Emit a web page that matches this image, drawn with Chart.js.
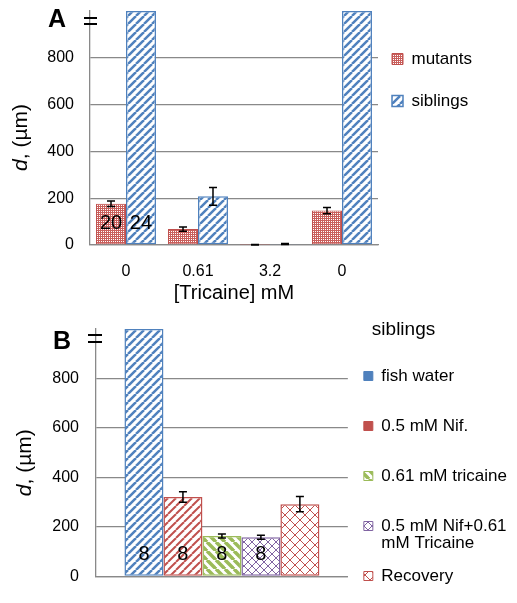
<!DOCTYPE html>
<html><head><meta charset="utf-8">
<script src="https://cdn.jsdelivr.net/npm/chart.js@4"></script>
<style>
html,body{margin:0;padding:0;background:#fff;}
#wrap{position:relative;width:517px;height:603px;overflow:hidden;background:#fff;}
canvas{position:absolute;left:0;}
#ca{top:0;}
#cb{top:290px;}
</style></head><body>
<div id="wrap"><canvas id="ca" width="517" height="310"></canvas><canvas id="cb" width="517" height="313"></canvas></div>
<script>
// ---------- data ----------
const tricaineLabels = ['0', '0.61', '3.2', '0'];
const seriesA = ['mutants', 'siblings'];
const mutants = [176, 68, 1, 147];
const mutantsErr = [12, 9, 1, 13];
const siblingsA = [1000, 208, 4, 1000];
const siblingsAErr = [null, 38, 2, null];
const countsMutants = ['20', '', '', ''];
const countsSiblingsA = ['24', '', '', ''];
const yTicks = [0, 200, 400, 600, 800];
const yMax = 1000;

const legendTitleB = 'siblings';
const treatments = ['fish water', '0.5 mM Nif.', '0.61 mM tricaine', '0.5 mM Nif+0.61 mM Tricaine', 'Recovery'];
const legendLinesB = [['fish water', ''], ['0.5 mM Nif.', ''], ['0.61 mM tricaine', ''], ['0.5 mM Nif+0.61', 'mM Tricaine'], 'Recovery'];
const siblingsB = [1000, 321, 163, 158, 292];
const siblingsBErr = [null, 21, 8, 8, 31];
const countsB = ['8', '8', '8', '8', ''];

// ---------- styles ----------
const FONT = '"Liberation Sans", Arial, sans-serif';
Chart.defaults.font.family = FONT;
Chart.defaults.color = '#000';
const GRID = '#898989';
const BLUE = '#4f81bd', RED = '#c0504d', GREEN = '#9bbb59', PURPLE = '#8064a2';
const W = 517;

function makePattern(size, draw) {
  const c = document.createElement('canvas');
  c.width = c.height = size;
  const x = c.getContext('2d');
  draw(x, size);
  return x.createPattern(c, 'repeat');
}
function stripes(color, s, lw, dir) {
  return makePattern(s, (x) => {
    x.fillStyle = '#fff'; x.fillRect(0, 0, s, s);
    x.strokeStyle = color; x.lineWidth = lw;
    for (let k = -1; k <= 1; k++) {
      x.beginPath();
      if (dir === '/') { x.moveTo(k * s, s); x.lineTo(k * s + s, 0); }
      else { x.moveTo(k * s, 0); x.lineTo(k * s + s, s); }
      x.stroke();
    }
  });
}
function lattice(color, s, lw) {
  return makePattern(s, (x) => {
    x.fillStyle = '#fff'; x.fillRect(0, 0, s, s);
    x.strokeStyle = color; x.lineWidth = lw;
    for (let k = -1; k <= 1; k++) {
      x.beginPath(); x.moveTo(k * s, s); x.lineTo(k * s + s, 0); x.stroke();
      x.beginPath(); x.moveTo(k * s, 0); x.lineTo(k * s + s, s); x.stroke();
    }
  });
}
const patMut = makePattern(4, (x, s) => {
  x.fillStyle = '#c95f5c'; x.fillRect(0, 0, s, s);
  x.fillStyle = '#ffffff';
  x.fillRect(1, 1, 1, 1); x.fillRect(3, 3, 1, 1); x.fillRect(1, 3, 1, 1); x.fillRect(3, 1, 1, 1);
});
const patBlue = stripes(BLUE, 8, 2.5, '/');
const patRed = stripes(RED, 8, 2, '/');
const patGreen = stripes(GREEN, 9, 3.5, '\\');
const patPurple = lattice(PURPLE, 8, 1);
const patRecov = lattice(RED, 10, 1);

// legend width as Chart.js computes it (vertical legend): padding + box + size/2 + text + 10
const measureCtx = document.createElement('canvas').getContext('2d');
function legendWidth(texts, size, pad, box) {
  measureCtx.font = size + 'px ' + FONT;
  const w = Math.max(...texts.map(t => measureCtx.measureText(t).width));
  return pad + box + size / 2 + w + 10;
}

// ---------- plugins ----------
const decor = {
  id: 'decor',
  afterDraw(chart, args, o) {
    const { ctx, chartArea: a } = chart;
    ctx.save();
    ctx.fillStyle = '#000';
    ctx.font = 'bold 25px ' + FONT;
    ctx.textAlign = 'left'; ctx.textBaseline = 'middle';
    ctx.fillText(o.letter, a.left + o.letterDx, a.top + o.letterDy);
    if (o.legendTitle) {
      ctx.font = '19px ' + FONT;
      ctx.fillText(o.legendTitle, chart.legend.left + o.legendTitleDx, chart.legend.top + o.legendTitleDy);
    }
    ctx.strokeStyle = '#000'; ctx.lineWidth = 2;
    for (const dy of o.breakDy) {
      ctx.beginPath(); ctx.moveTo(a.left + o.breakX[0], a.top + dy); ctx.lineTo(a.left + o.breakX[1], a.top + dy); ctx.stroke();
    }
    ctx.translate(a.left + o.titleDx, (a.top + a.bottom) / 2 + o.titleDy);
    ctx.rotate(-Math.PI / 2);
    const f1 = 'italic 21px ' + FONT, f2 = '21px ' + FONT;
    ctx.font = f1; const w1 = ctx.measureText(o.titleItalic).width;
    ctx.font = f2; const w2 = ctx.measureText(o.titleRest).width;
    const x0 = -(w1 + w2) / 2;
    ctx.font = f1; ctx.fillText(o.titleItalic, x0, 0);
    ctx.font = f2; ctx.fillText(o.titleRest, x0 + w1, 0);
    ctx.restore();
  }
};
const errorBars = {
  id: 'errorBars',
  afterDatasetsDraw(chart) {
    const { ctx } = chart; const y = chart.scales.y;
    ctx.save();
    chart.data.datasets.forEach((ds, i) => {
      const meta = chart.getDatasetMeta(i);
      meta.data.forEach((el, j) => {
        const e = ds.errors ? ds.errors[j] : null;
        const v = ds.data[j];
        if (e != null) {
          const yt = y.getPixelForValue(v + e), yb = y.getPixelForValue(Math.max(0, v - e));
          ctx.strokeStyle = '#000'; ctx.lineWidth = 1.5;
          ctx.beginPath();
          ctx.moveTo(el.x, yt); ctx.lineTo(el.x, yb);
          ctx.moveTo(el.x - 4, yt); ctx.lineTo(el.x + 4, yt);
          ctx.moveTo(el.x - 4, yb); ctx.lineTo(el.x + 4, yb);
          ctx.stroke();
        }
        const t = ds.counts ? ds.counts[j] : '';
        if (t) {
          ctx.fillStyle = '#000'; ctx.font = '20px ' + FONT;
          ctx.textAlign = 'center'; ctx.textBaseline = 'middle';
          ctx.fillText(t, el.x, y.getPixelForValue(0) - 22);
        }
      });
    });
    ctx.restore();
  }
};

function yScale(width, padTop, tickPad) {
  return {
    min: 0, max: yMax,
    afterBuildTicks(s) { s.ticks = yTicks.map(v => ({ value: v })); },
    grid: { color: GRID, lineWidth: 1.3, drawTicks: false },
    border: { color: GRID, width: 1.3 },
    ticks: { color: '#000', font: { size: 16 }, padding: tickPad },
    afterFit(s) { s.width = width; s.paddingTop = padTop; }
  };
}

// ---------- Panel A ----------
const padRightA = Math.max(0, W - 378 - legendWidth(seriesA, 17, 14, 11));
new Chart(document.getElementById('ca'), {
  type: 'bar',
  data: {
    labels: tricaineLabels,
    datasets: [
      { label: seriesA[0], data: mutants, errors: mutantsErr, counts: countsMutants,
        backgroundColor: patMut, borderColor: RED, borderWidth: 1, borderSkipped: false },
      { label: seriesA[1], data: siblingsA, errors: siblingsAErr, counts: countsSiblingsA,
        backgroundColor: patBlue, borderColor: BLUE, borderWidth: 1.5, borderSkipped: false }
    ]
  },
  options: {
    responsive: false, animation: false, devicePixelRatio: 1,
    layout: { padding: { left: 0, right: padRightA, top: 0, bottom: 0 } },
    datasets: { bar: { categoryPercentage: 0.833, barPercentage: 1 } },
    scales: {
      x: {
        grid: { display: false }, border: { color: GRID, width: 1.3 },
        ticks: { color: '#000', font: { size: 16 }, padding: 9 },
        title: { display: true, text: '[Tricaine] mM', color: '#000', font: { size: 20 }, padding: { top: 0, bottom: 5 } },
        afterFit(s) { s.height = 65; }
      },
      y: yScale(90, 11, 16)
    },
    plugins: {
      tooltip: { enabled: false },
      legend: {
        position: 'right', align: 'start', maxWidth: 300,
        title: { display: true, text: '', font: { size: 10 }, padding: { top: 24.5, bottom: 0 } },
        labels: {
          boxWidth: 11, boxHeight: 11, padding: 14, color: '#000',
          font: { size: 17, lineHeight: '28px' },
          generateLabels(chart) {
            return Chart.defaults.plugins.legend.labels.generateLabels(chart)
              .map((it, i) => Object.assign(it, { text: [seriesA[i]] }));
          }
        }
      },
      decor: { letter: 'A', letterDx: -42, letterDy: 9.5, breakDy: [7, 13], breakX: [-6, 7],
               titleDx: -69, titleDy: 9.5, titleItalic: 'd', titleRest: ', (µm)' }
    }
  },
  plugins: [decor, errorBars]
});

// ---------- Panel B ----------
const fillsB = [patBlue, patRed, patGreen, patPurple, patRecov];
const bordersB = [BLUE, RED, GREEN, PURPLE, RED];
const legendFillB = [BLUE, RED, patGreen, patPurple, patRecov];
const padRightB = Math.max(0, W - 348 - legendWidth(['0.61 mM tricaine'], 17, 16, 9));
new Chart(document.getElementById('cb'), {
  type: 'bar',
  data: {
    labels: [''],
    datasets: treatments.map((t, i) => ({
      label: t, data: [siblingsB[i]], errors: [siblingsBErr[i]], counts: [countsB[i]],
      backgroundColor: fillsB[i], borderColor: bordersB[i], borderWidth: 1.5, borderSkipped: false
    }))
  },
  options: {
    responsive: false, animation: false, devicePixelRatio: 1,
    layout: { padding: { left: 0, right: padRightB, top: 0, bottom: 0 } },
    datasets: { bar: { categoryPercentage: 0.774, barPercentage: 1 } },
    scales: {
      x: {
        grid: { display: false }, border: { color: GRID, width: 1.3 },
        ticks: { display: false },
        afterFit(s) { s.height = 16; }
      },
      y: yScale(96, 39, 17)
    },
    plugins: {
      tooltip: { enabled: false },
      legend: {
        position: 'right', align: 'start', maxWidth: 300,
        title: { display: true, text: '', font: { size: 19 }, padding: { top: 30.5, bottom: 8.2 } },
        labels: {
          boxWidth: 9, boxHeight: 9, padding: 16, color: '#000',
          font: { size: 17, lineHeight: '17px' },
          generateLabels(chart) {
            return Chart.defaults.plugins.legend.labels.generateLabels(chart)
              .map((it, i) => Object.assign(it, { text: legendLinesB[i], fillStyle: legendFillB[i], lineWidth: 1 }));
          }
        }
      },
      decor: { letter: 'B', letterDx: -43, letterDy: 13.5, breakDy: [6, 13], breakX: [-8, 6],
               titleDx: -71, titleDy: 10, titleItalic: 'd', titleRest: ', (µm)',
               legendTitle: legendTitleB, legendTitleDx: 24, legendTitleDy: 40 }
    }
  },
  plugins: [decor, errorBars]
});
</script>
</body></html>
